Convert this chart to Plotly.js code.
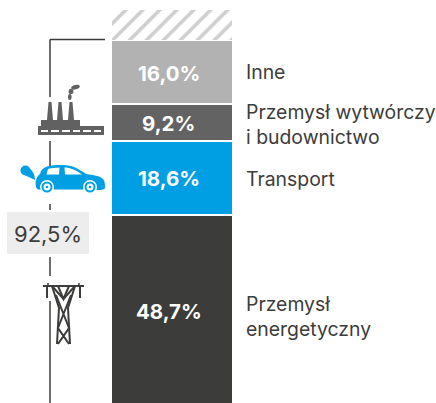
<!DOCTYPE html>
<html><head><meta charset="utf-8">
<script src="https://cdn.plot.ly/plotly-3.0.1.min.js"></script>
<style>html,body{margin:0;padding:0;background:#fff;overflow:hidden}#c{width:436px;height:403px}</style>
</head><body><div id="c"></div>
<script>
const sectors = ['Przemysł energetyczny','Transport','Przemysł wytwórczy i budownictwo','Inne','Pozostałe'];
const values = [48.7,18.6,9.2,16.0,7.5];
const valueLabels = ['48,7%','18,6%','9,2%','16,0%',''];
const colors = ['#3c3c3b','#009fe3','#636363','#b2b2b2','#ffffff'];
const sideLabels = [
  {text:'Inne',y:72},
  {text:'Przemysł wytwórczy<br>i budownictwo',y:125},
  {text:'Transport',y:179},
  {text:'Przemysł<br>energetyczny',y:316}
];
const totalLabel = '92,5%';
const W=436,H=403;
const px=x=>x/W, py=y=>1-y/H;
const FONT='Inter, "Open Sans", sans-serif';
const CAT='udział';

const traces = values.map((v,i)=>({
  type:'bar', x:[CAT], y:[v], name:sectors[i], width:i===4?1:1.013,
  hoverinfo:'skip',
  marker:{color:colors[i], line:{color:'#fff',width:i===4?0:1.6},
    pattern:i===4?{shape:'/',fgcolor:'#cfcfcf',bgcolor:'#fff',size:12,solidity:0.3}:{shape:''}}
}));

const labelYShift=[1,0,-1,-1.5];
let base=0;
const valueAnnotations=[];
values.forEach((v,i)=>{
  if(valueLabels[i]) valueAnnotations.push({xref:'x',yref:'y',x:CAT,y:base+v/2,xshift:-3.5,yshift:labelYShift[i],text:valueLabels[i],showarrow:false,
    font:{family:FONT,size:20.5,color:'#fff',weight:700}});
  base+=v;
});

const svg=s=>'data:image/svg+xml;utf8,'+encodeURIComponent(s);
const factory=svg(`<svg xmlns="http://www.w3.org/2000/svg" viewBox="0 0 70 52" width="70" height="52">
<g fill="#616161">
<path d="M2 42H68V51H2Z"/><path d="M5 36H44V42H5Z"/>
<path d="M11 36L12.500 18H15.500L17 36Z"/><path d="M21 36L22.500 18H25.500L27 36Z"/><path d="M32 36L33.500 18H36.500L38 36Z"/>
<ellipse cx="33.800" cy="13" rx="1.800" ry="3"/><ellipse cx="35" cy="7.500" rx="2.400" ry="2.800"/><ellipse cx="39.500" cy="3.200" rx="4.400" ry="2.200" transform="rotate(-15 39.500 3.200)"/>
</g>
<g fill="#fff"><rect x="5" y="46" width="7" height="2"/><rect x="15" y="46" width="8" height="2"/><rect x="26" y="46" width="8" height="2"/><rect x="37" y="46" width="7" height="2"/><rect x="47" y="46" width="8" height="2"/><rect x="58" y="46" width="7" height="2"/></g>
</svg>`);
const car=svg(`<svg xmlns="http://www.w3.org/2000/svg" viewBox="0 0 86 30" width="86" height="30">
<g fill="#009fe3">
<circle cx="5.500" cy="6.500" r="5"/><path d="M7 2C11 5 15 9 15 16C11 14 6 12 3 10Z"/>
<path d="M16 23C15 18 16 13 20 10C21 6 23 4 27 2.500C36 0.500 47 0.500 54 3C59 5 63 8 66 10C73 11 80 12 83 15C85 17 85 21 85 24C84 26 80 26 78 26H24C20 26 17 26 16 23Z"/>
</g>
<g fill="#fff"><path d="M28 5C31 4 36 3.600 39.500 3.500L39 10.500H26.500Z"/><path d="M44.500 3.500C50 3.500 55 5.500 62 10.500L45 10.500Z"/></g>
<rect x="30" y="25.500" width="34" height="1" fill="#fff"/>
<g><circle cx="27" cy="23" r="7" fill="#fff"/><circle cx="27" cy="23" r="5.500" fill="#009fe3"/><circle cx="27" cy="23" r="3.500" fill="#fff"/><circle cx="27" cy="23" r="1.300" fill="#009fe3"/>
<circle cx="70" cy="23" r="7" fill="#fff"/><circle cx="70" cy="23" r="5.500" fill="#009fe3"/><circle cx="70" cy="23" r="3.500" fill="#fff"/><circle cx="70" cy="23" r="1.300" fill="#009fe3"/></g>
</svg>`);
const tower=svg(`<svg xmlns="http://www.w3.org/2000/svg" viewBox="0 0 42 62" width="42" height="62">
<g fill="none" stroke="#3c3c3b" stroke-width="2">
<path d="M0 3H41"/><path d="M4 3V15M37 3V15"/><path d="M5 0V3M36 0V3" stroke-width="1.500"/>
<path d="M9 3L16 25L14 61M32 3L25 25L27 61"/><path d="M9 3L20.500 16L32 3"/><path d="M15 3L20.500 16L26 3"/>
<path d="M13 12L26 45L15 61M28 12L15 45L26 61"/>
</g></svg>`);

const layout = {
  width:W,height:H,margin:{l:0,r:0,t:0,b:0},paper_bgcolor:'#fff',plot_bgcolor:'#fff',
  barmode:'stack',bargap:0,showlegend:false,
  xaxis:{visible:false,type:'category',range:[-1.4333,2.2],fixedrange:true},
  yaxis:{visible:false,range:[1.75,102.5],fixedrange:true},
  shapes:[
    [50,39.5,105,39.5],[50,39.5,50,97],[50,141,50,166],[50,204,50,210],[50,257,50,276],[50,301,50,403]
  ].map(s=>({type:'line',xref:'paper',yref:'paper',x0:px(s[0]),y0:py(s[1]),x1:px(s[2]),y1:py(s[3]),line:{color:'#3c3c3b',width:1.5}})).concat([
    {type:'rect',xref:'paper',yref:'paper',x0:px(7),x1:px(89),y0:py(212),y1:py(254),fillcolor:'#ededed',line:{width:0}}
  ]),
  images:[
    {source:factory,x:36,y:84,w:70,h:52},
    {source:car,x:20,y:164,w:86,h:30},
    {source:tower,x:43,y:283,w:42,h:62}
  ].map(m=>({source:m.source,xref:'paper',yref:'paper',x:px(m.x),y:py(m.y),sizex:m.w/W,sizey:m.h/H,xanchor:'left',yanchor:'top',sizing:'stretch',layer:'above'})),
  annotations:sideLabels.map(l=>({xref:'paper',yref:'paper',x:px(244),y:py(l.y),text:l.text,showarrow:false,xanchor:'left',yanchor:'middle',align:'left',
      font:{family:FONT,size:19.4,color:'#3c3c3b'}})).concat([
    {xref:'paper',yref:'paper',x:px(48),y:py(234),text:totalLabel,showarrow:false,xanchor:'center',yanchor:'middle',font:{family:FONT,size:22,color:'#3c3c3b'}}
  ]).concat(valueAnnotations)
};
Plotly.newPlot('c',traces,layout,{displayModeBar:false,staticPlot:true});
</script></body></html>
